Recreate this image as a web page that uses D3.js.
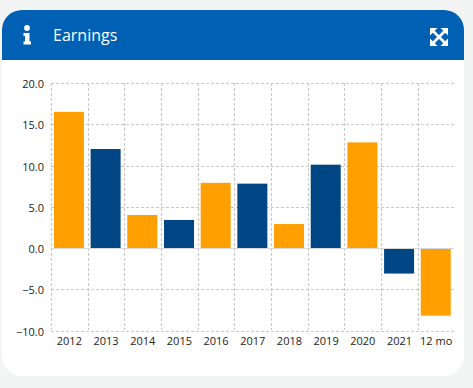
<!DOCTYPE html>
<html><head><meta charset="utf-8">
<script src="https://cdn.jsdelivr.net/npm/d3@7"></script>
<style>html,body{margin:0;padding:0;background:#f3f5f5;overflow:hidden}svg{display:block}text{font-family:"Open Sans",sans-serif}</style>
</head><body><svg id="c" width="473" height="388"></svg>
<script>
const categories=["2012","2013","2014","2015","2016","2017","2018","2019","2020","2021","12 mo"];
const values=[16.5,12.0,4.0,3.4,7.9,7.8,2.9,10.1,12.8,-3.1,-8.2];
const barColors=["#ff9f00","#004684","#ff9f00","#004684","#ff9f00","#004684","#ff9f00","#004684","#ff9f00","#004684","#ff9f00"];
const yTicks=[20,15,10,5,0,-5,-10];
const title="Earnings";

const svg=d3.select("#c");
const x=d3.scaleBand().domain(categories).range([51,454.5]).paddingInner(0).paddingOuter(0);
const y=d3.scaleLinear().domain([-10,20]).range([330.5,83]);

// card
svg.append("path").attr("d","M2 30a20 20 0 0 1 20-20h422a20 20 0 0 1 20 20v326a20 20 0 0 1-20 20h-422a20 20 0 0 1-20-20z").attr("fill","#fff");
svg.append("path").attr("d","M2 60V30a20 20 0 0 1 20-20h422a20 20 0 0 1 20 20v30z").attr("fill","#0060b4");
svg.append("text").attr("x",53).attr("y",40.6).attr("fill","#fff").attr("font-size",16).text(title);

// info icon
const info=svg.append("g").attr("fill","#fff");
info.append("circle").attr("cx",27).attr("cy",28).attr("r",2.9);
info.append("path").attr("d","M23.5 33h6v8.5h1.5v3h-7.5v-3h1.5v-5.5h-1.5z");

// expand icon
const ex=svg.append("g").attr("transform","translate(439,37)");
[0,90,180,270].forEach(a=>{
  const g=ex.append("g").attr("transform",`rotate(${a})`);
  g.append("path").attr("d","M-9-9h7.5l-7.5 7.5z").attr("fill","#fff");
  g.append("line").attr("x1",-6).attr("y1",-6).attr("x2",0).attr("y2",0).attr("stroke","#fff").attr("stroke-width",2.6);
});

// grid
const grid=svg.append("g").attr("fill","none").attr("stroke","#c8c8c8").attr("stroke-width",1.2).attr("stroke-dasharray","3 2");
yTicks.filter(t=>t!==0).forEach(t=>grid.append("line").attr("x1",51).attr("x2",454).attr("y1",Math.round(y(t))+.5).attr("y2",Math.round(y(t))+.5));
const gridX=categories.map(c=>x(c));
gridX.forEach(v=>grid.append("line").attr("x1",Math.round(v)+.5).attr("x2",Math.round(v)+.5).attr("y1",83).attr("y2",330));

// bars
const bw=30;
svg.append("g").selectAll("rect").data(categories).join("rect")
  .attr("x",c=>x(c)+(x.bandwidth()-bw)/2-.4)
  .attr("width",bw)
  .attr("y",(c,i)=>y(Math.max(0,values[i])))
  .attr("height",(c,i)=>Math.abs(y(values[i])-y(0)))
  .attr("fill",(c,i)=>barColors[i]);

// zero line
svg.append("line").attr("x1",51).attr("x2",454).attr("y1",Math.round(y(0))+.5).attr("y2",Math.round(y(0))+.5).attr("stroke","#d8d8d8");

// axes via d3
const yAxis=d3.axisLeft(y).tickValues(yTicks).tickFormat(d3.format(".1f")).tickSize(0).tickPadding(7);
const gy=svg.append("g").attr("transform","translate(51,1)").call(yAxis);
gy.select(".domain").remove();
gy.selectAll("text").attr("font-size",11).attr("fill","#222").attr("font-family","Open Sans");
const xAxis=d3.axisBottom(x).tickSize(0).tickPadding(7);
const gx=svg.append("g").attr("transform","translate(0,330)").call(xAxis);
gx.select(".domain").remove();
gx.selectAll("text").attr("font-size",11).attr("fill","#222").attr("font-family","Open Sans");
</script></body></html>
